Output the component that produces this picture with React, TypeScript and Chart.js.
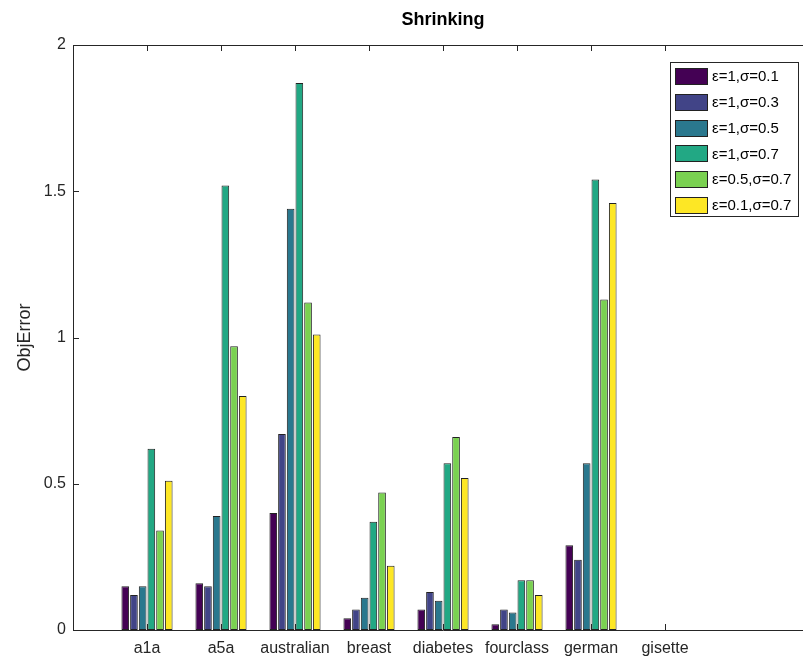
import React, { useEffect, useRef } from 'react';
import { Chart, registerables } from 'chart.js';

Chart.register(...registerables);

const categories = ['a1a', 'a5a', 'australian', 'breast', 'diabetes', 'fourclass', 'german', 'gisette'];
const seriesLabels = ['ε=1,σ=0.1', 'ε=1,σ=0.3', 'ε=1,σ=0.5', 'ε=1,σ=0.7', 'ε=0.5,σ=0.7', 'ε=0.1,σ=0.7'];
const s1 = [0.15, 0.16, 0.40, 0.04, 0.07, 0.02, 0.29, 0];
const s2 = [0.12, 0.15, 0.67, 0.07, 0.13, 0.07, 0.24, 0];
const s3 = [0.15, 0.39, 1.44, 0.11, 0.10, 0.06, 0.57, 0];
const s4 = [0.62, 1.52, 1.87, 0.37, 0.57, 0.17, 1.54, 0];
const s5 = [0.34, 0.97, 1.12, 0.47, 0.66, 0.17, 1.13, 0];
const s6 = [0.51, 0.80, 1.01, 0.22, 0.52, 0.12, 1.46, 0];
const seriesValues = [s1, s2, s3, s4, s5, s6];
const colors = ['#440154', '#414487', '#2a788e', '#22a884', '#7ad151', '#fde725'];
const yTicks = [0, 0.5, 1, 1.5, 2];
const yLabel = 'ObjError';
const titleText = 'Shrinking';

const FONT = "'Liberation Sans', Arial, Helvetica, sans-serif";
const AXIS_COLOR = '#262626';

// x range 0..10 (category slots), categories at 1..8
const xLabels = ['', ...categories, '', ''];
const pad = (arr: number[]) => [null, ...arr, null, null];

const framePlugin = {
  id: 'frame',
  afterDatasetsDraw(chart: any) {
    const { ctx, chartArea, scales } = chart;
    const { left, right, top, bottom } = chartArea;
    const x = scales.x;
    const y = scales.y;
    ctx.save();
    ctx.strokeStyle = AXIS_COLOR;
    ctx.lineWidth = 1;
    ctx.beginPath();
    ctx.moveTo(Math.round(left) + 0.5, Math.round(bottom) + 0.5);
    ctx.lineTo(Math.round(left) + 0.5, Math.round(top) + 0.5);
    ctx.lineTo(Math.round(right) + 0.5, Math.round(top) + 0.5);
    ctx.lineTo(Math.round(right) + 0.5, Math.round(bottom) + 0.5);
    ctx.closePath();
    ctx.stroke();
    const tl = 6;
    ctx.beginPath();
    yTicks.forEach((v) => {
      const py = Math.round(y.getPixelForValue(v)) + 0.5;
      ctx.moveTo(left, py);
      ctx.lineTo(left + tl, py);
    });
    categories.forEach((_, i) => {
      const px = Math.round(x.getPixelForValue(i + 1)) + 0.5;
      ctx.moveTo(px, bottom);
      ctx.lineTo(px, bottom - tl);
      ctx.moveTo(px, top);
      ctx.lineTo(px, top + tl);
    });
    ctx.stroke();

    // title centred over the plot area
    ctx.fillStyle = '#000';
    ctx.font = `bold 18px ${FONT}`;
    ctx.textAlign = 'center';
    ctx.textBaseline = 'middle';
    ctx.fillText(titleText, (left + right) / 2, 20);

    // legend
    const lx = 670, ly = 62, lw = 128, lh = 154;
    ctx.fillStyle = '#ffffff';
    ctx.fillRect(lx, ly, lw, lh);
    ctx.strokeStyle = '#262626';
    ctx.strokeRect(lx + 0.5, ly + 0.5, lw, lh);
    ctx.font = `15px ${FONT}`;
    ctx.textBaseline = 'middle';
    ctx.textAlign = 'left';
    seriesLabels.forEach((lab, i) => {
      const cy = 76 + i * 25.8;
      ctx.fillStyle = colors[i];
      ctx.fillRect(675, Math.round(cy - 8), 32, 16);
      ctx.strokeStyle = '#222';
      ctx.strokeRect(675.5, Math.round(cy - 8) + 0.5, 32, 16);
      ctx.fillStyle = '#000';
      ctx.fillText(lab, 712, cy + 1);
    });
    ctx.restore();
  },
};

export default function App() {
  const ref = useRef<HTMLCanvasElement | null>(null);
  useEffect(() => {
    if (!ref.current) return;
    const chart = new Chart(ref.current, {
      type: 'bar',
      data: {
        labels: xLabels,
        datasets: seriesValues.map((vals, i) => ({
          label: seriesLabels[i],
          data: pad(vals) as any,
          backgroundColor: colors[i],
          borderColor: '#222222',
          borderWidth: 1,
          borderSkipped: false,
          categoryPercentage: 0.705,
          barPercentage: 0.88,
        })),
      },
      options: {
        responsive: false,
        animation: false,
        devicePixelRatio: 1,
        layout: { padding: { left: 0, right: 73, top: 45, bottom: 0 } },
        plugins: {
          legend: { display: false },
          tooltip: { enabled: false },
          title: { display: false },
        },
        scales: {
          x: {
            type: 'category',
            offset: false,
            grid: { display: false, drawTicks: false },
            border: { display: false },
            ticks: {
              autoSkip: false,
              maxRotation: 0,
              minRotation: 0,
              padding: 9,
              color: '#262626',
              font: { family: FONT, size: 16 },
            },
            afterFit: (s: any) => { s.height = 27; },
          },
          y: {
            min: 0,
            max: 2,
            grid: { display: false, drawTicks: false },
            border: { display: false },
            afterBuildTicks: (s: any) => { s.ticks = yTicks.map((v) => ({ value: v })); },
            ticks: {
              padding: 7,
              color: '#262626',
              font: { family: FONT, size: 16 },
              callback: (v: any) => String(v),
            },
            title: {
              display: true,
              text: yLabel,
              color: '#262626',
              font: { family: FONT, size: 18 },
              padding: { top: 14, bottom: 0 },
            },
            afterFit: (s: any) => { s.width = 73; },
          },
        },
      },
      plugins: [framePlugin],
    });
    return () => chart.destroy();
  }, []);
  return (
    <div style={{ position: 'absolute', left: 0, top: 0, width: 803, height: 657, overflow: 'hidden', background: '#fff' }}>
      <canvas ref={ref} width={886} height={657} style={{ display: 'block', width: 886, height: 657 }} />
    </div>
  );
}
